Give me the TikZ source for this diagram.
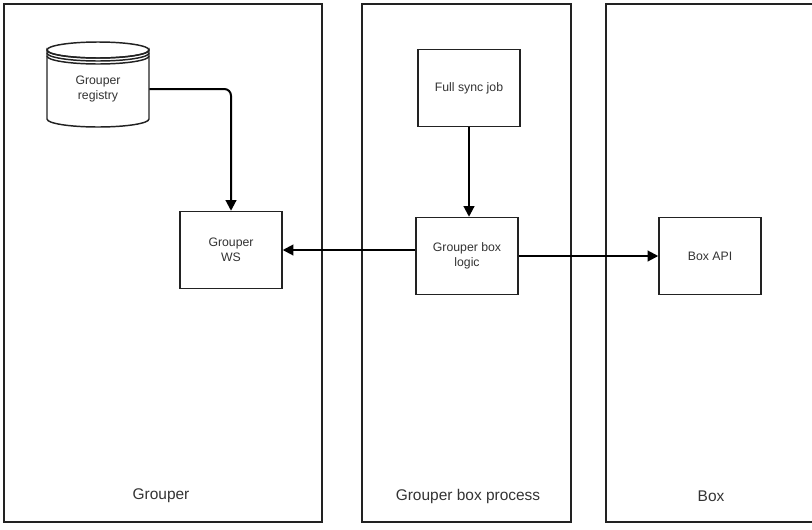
\documentclass[tikz,border=0pt]{standalone}
\usepackage{fontspec}
\setmainfont{Liberation Sans}
\usetikzlibrary{arrows.meta}
\definecolor{txt}{HTML}{333333}
\definecolor{edge}{HTML}{222222}
\begin{document}
\begin{tikzpicture}[x=0.75pt,y=-0.75pt,
  lane/.style={draw=edge, line width=1pt, inner sep=0pt},
  box/.style={draw=edge, line width=1.1pt, fill=white, minimum width=76.5pt, minimum height=57.75pt, inner sep=0pt, align=center, font=\fontsize{9.2}{11.2}\selectfont, text=txt},
  cyl/.style={draw=edge, line width=1.1pt},
  conn/.style={line width=1.5pt, -{Triangle[length=8pt,width=8pt]}},
  lanelabel/.style={font=\fontsize{11.6}{13}\selectfont, text=txt}]
\useasboundingbox (0,0) rectangle (812,529);
% swimlanes
\node[lane, minimum width=238.5pt, minimum height=388.5pt] (laneA) at (163,263) {};
\node[lane, minimum width=156.75pt, minimum height=388.5pt] (laneB) at (466.5,263) {};
\node[lane, minimum width=156pt, minimum height=388.5pt] (laneC) at (710,263) {};
\node[lanelabel] (labA) at (161,496) {Grouper};
\node[lanelabel] (labB) at (468,496) {Grouper box process};
\node[lanelabel] (labC) at (711,496) {Box};
% cylinder
\draw[cyl, fill=white] (47,50) -- (47,119) arc[start angle=180, end angle=0, x radius=51, y radius=8] -- (149,50) arc[start angle=0, end angle=180, x radius=51, y radius=8] -- cycle;
\draw[cyl] (98,50) ellipse [x radius=51, y radius=8];
\draw[cyl] (47,53) arc[start angle=180, end angle=0, x radius=51, y radius=8];
\draw[cyl] (47,56) arc[start angle=180, end angle=0, x radius=51, y radius=8];
\node[minimum width=76.5pt, minimum height=50pt, inner sep=0pt, align=center, font=\fontsize{9.2}{11.2}\selectfont, text=txt] (reg) at (98,89) {Grouper\\registry};
% boxes
\node[box] (ws) at (231,250) {Grouper\\WS};
\node[box] (sync) at (469,88) {Full sync job};
\node[box] (logic) at (467,256) {Grouper box\\logic};
\node[box] (api) at (710,256) {Box API};
% connectors
\draw[conn, rounded corners=5] (reg.east) -| (ws.north);
\draw[conn] (sync.south) -- (sync.south |- logic.north);
\draw[conn] (ws.east -| logic.west) -- (ws.east);
\draw[conn] (logic.east) -- (api.west);
\end{tikzpicture}
\end{document}
